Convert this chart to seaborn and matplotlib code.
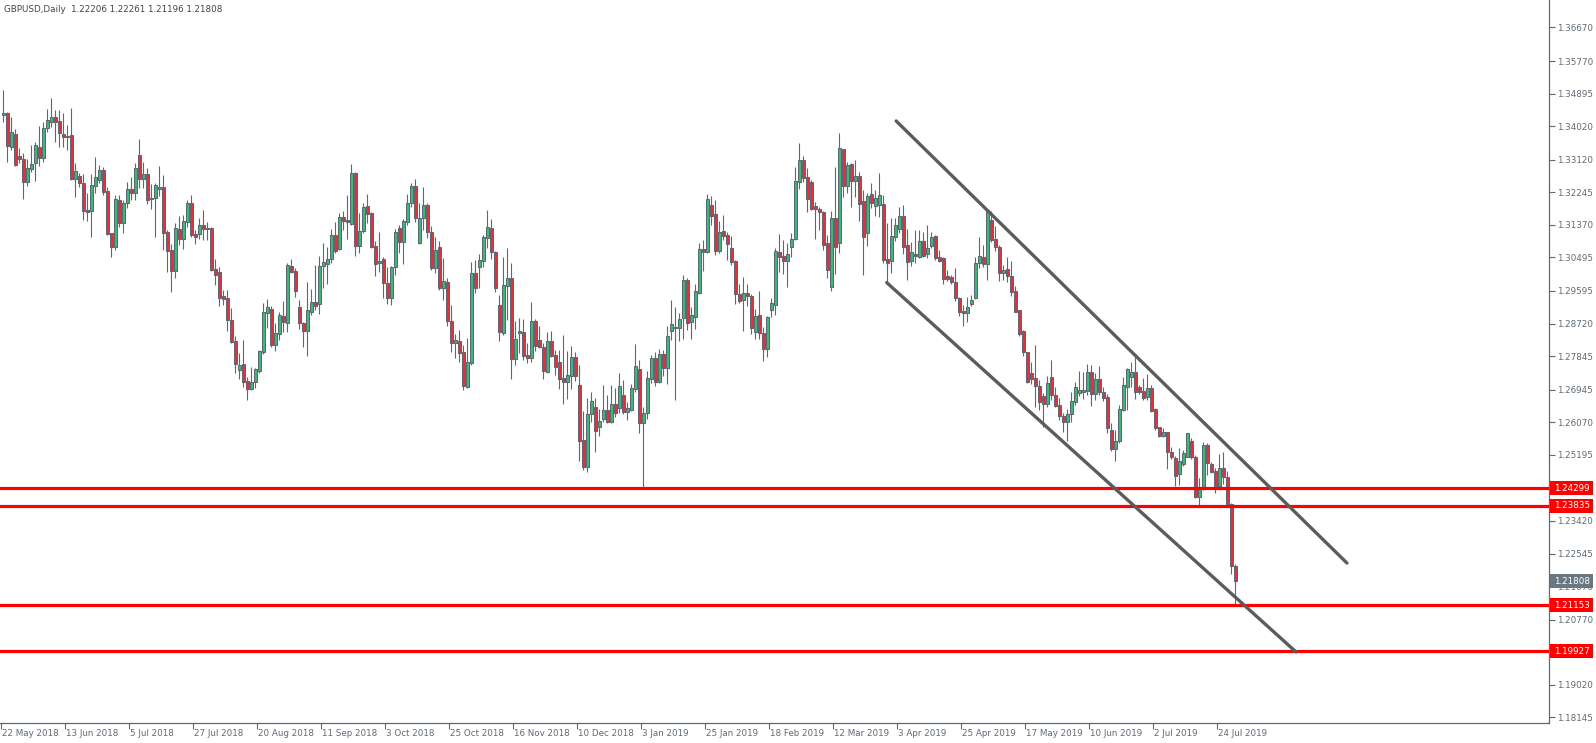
import numpy as np
import pandas as pd
import matplotlib
matplotlib.use("Agg")
import matplotlib.pyplot as plt
import seaborn as sns
from matplotlib.patches import Rectangle
from matplotlib.transforms import blended_transform_factory

# ---------------- data ----------------
chart_title = "GBPUSD,Daily  1.22206 1.22261 1.21196 1.21808"
first_date = "2018-05-22"
last_date = "2019-07-30"
market_holidays = ["2018-12-25", "2019-01-01"]

opens = [
    1.3432, 1.3437, 1.3347, 1.3381, 1.3321, 1.3314, 1.3251, 1.3288, 1.3302, 1.3345,
    1.3316, 1.3396, 1.3414, 1.3426, 1.3416, 1.3381, 1.3374, 1.3378, 1.3260, 1.3268,
    1.3249, 1.3177, 1.3175, 1.3242, 1.3258, 1.3284, 1.3228, 1.3114, 1.3078, 1.3204,
    1.3143, 1.3195, 1.3233, 1.3222, 1.3325, 1.3259, 1.3273, 1.3210, 1.3208, 1.3233,
    1.3238, 1.3117, 1.3070, 1.3014, 1.3126, 1.3099, 1.3145, 1.3197, 1.3112, 1.3112,
    1.3137, 1.3125, 1.3129, 1.3018, 1.3010, 1.2946, 1.2940, 1.2882, 1.2825, 1.2747,
    1.2764, 1.2718, 1.2696, 1.2716, 1.2745, 1.2797, 1.2900, 1.2910, 1.2815, 1.2843,
    1.2892, 1.2874, 1.3027, 1.3013, 1.2917, 1.2874, 1.2853, 1.2904, 1.2929, 1.2925,
    1.3027, 1.3032, 1.3045, 1.3110, 1.3072, 1.3159, 1.3150, 1.3139, 1.3277, 1.3080,
    1.3121, 1.3188, 1.3170, 1.3080, 1.3035, 1.3045, 1.2980, 1.2941, 1.3023, 1.3128,
    1.3090, 1.3145, 1.3195, 1.3241, 1.3088, 1.3155, 1.3190, 1.3117, 1.3020, 1.3077,
    1.2967, 1.2983, 1.2880, 1.2819, 1.2825, 1.2795, 1.2703, 1.2767, 1.3007, 1.3025,
    1.3041, 1.3101, 1.3128, 1.3064, 1.2922, 1.2848, 1.2974, 1.2995, 1.2776, 1.2846,
    1.2849, 1.2788, 1.2779, 1.2879, 1.2828, 1.2810, 1.2743, 1.2825, 1.2788, 1.2768,
    1.2727, 1.2716, 1.2731, 1.2783, 1.2707, 1.2560, 1.2486, 1.2629, 1.2647, 1.2594,
    1.2616, 1.2640, 1.2609, 1.2656, 1.2646, 1.2680, 1.2634, 1.2640, 1.2696, 1.2750,
    1.2606, 1.2631, 1.2723, 1.2779, 1.2714, 1.2790, 1.2752, 1.2853, 1.2861, 1.2859,
    1.2888, 1.2989, 1.2877, 1.2890, 1.2953, 1.3072, 1.3065, 1.3190, 1.3166, 1.3068,
    1.3121, 1.3110, 1.3074, 1.3040, 1.2951, 1.2934, 1.2953, 1.2947, 1.2850, 1.2895,
    1.2847, 1.2803, 1.2909, 1.2922, 1.3063, 1.3053, 1.3041, 1.3077, 1.3098, 1.3253,
    1.3311, 1.3265, 1.3251, 1.3188, 1.3180, 1.3171, 1.3088, 1.2970, 1.3155, 1.3088,
    1.3340, 1.3241, 1.3300, 1.3256, 1.3269, 1.3201, 1.3116, 1.3219, 1.3188, 1.3190,
    1.3192, 1.3045, 1.3041, 1.3104, 1.3126, 1.3161, 1.3083, 1.3041, 1.3059, 1.3052,
    1.3094, 1.3059, 1.3081, 1.3107, 1.3050, 1.3047, 1.3000, 1.2998, 1.2983, 1.2940,
    1.2906, 1.2900, 1.2924, 1.2940, 1.3034, 1.3050, 1.3032, 1.3150, 1.3099, 1.3077,
    1.3007, 1.3018, 1.3001, 1.2959, 1.2909, 1.2852, 1.2795, 1.2738, 1.2725, 1.2705,
    1.2678, 1.2656, 1.2729, 1.2680, 1.2654, 1.2624, 1.2609, 1.2629, 1.2662, 1.2685,
    1.2687, 1.2691, 1.2743, 1.2683, 1.2722, 1.2688, 1.2674, 1.2586, 1.2535, 1.2557,
    1.2640, 1.2701, 1.2729, 1.2741, 1.2702, 1.2692, 1.2676, 1.2698, 1.2642, 1.2594,
    1.2571, 1.2580, 1.2528, 1.2512, 1.2467, 1.2495, 1.2515, 1.2557, 1.2515, 1.2406,
    1.2430, 1.2546, 1.2494, 1.2476, 1.2437, 1.2483, 1.2460, 1.2388, 1.22206,
]
highs = [
    1.3498, 1.3439, 1.3427, 1.3394, 1.3343, 1.3329, 1.3313, 1.3352, 1.3360, 1.3402,
    1.3414, 1.3447, 1.3477, 1.3446, 1.3446, 1.3437, 1.3405, 1.3450, 1.3302, 1.3275,
    1.3274, 1.3222, 1.3274, 1.3318, 1.3298, 1.3293, 1.3240, 1.3114, 1.3217, 1.3217,
    1.3204, 1.3253, 1.3266, 1.3302, 1.3367, 1.3307, 1.3289, 1.3247, 1.3249, 1.3295,
    1.3271, 1.3123, 1.3086, 1.3141, 1.3161, 1.3163, 1.3204, 1.3217, 1.3123, 1.3155,
    1.3177, 1.3146, 1.3132, 1.3045, 1.3025, 1.2962, 1.2962, 1.2913, 1.2839, 1.2792,
    1.2828, 1.2729, 1.2756, 1.2752, 1.2801, 1.2927, 1.2937, 1.2919, 1.2873, 1.2904,
    1.2933, 1.3035, 1.3045, 1.3020, 1.2935, 1.2877, 1.2984, 1.2965, 1.3029, 1.3054,
    1.3088, 1.3078, 1.3126, 1.3146, 1.3170, 1.3174, 1.3217, 1.3300, 1.3280, 1.3168,
    1.3197, 1.3220, 1.3172, 1.3095, 1.3119, 1.3051, 1.3025, 1.3027, 1.3125, 1.3137,
    1.3152, 1.3220, 1.3249, 1.3259, 1.3195, 1.3240, 1.3197, 1.3134, 1.3105, 1.3095,
    1.3047, 1.2994, 1.2922, 1.2844, 1.2855, 1.2815, 1.2834, 1.3038, 1.3043, 1.3059,
    1.3110, 1.3177, 1.3152, 1.3067, 1.2949, 1.3052, 1.3074, 1.3034, 1.2880, 1.2886,
    1.2883, 1.2821, 1.2931, 1.2883, 1.2866, 1.2819, 1.2850, 1.2853, 1.2801, 1.2801,
    1.2841, 1.2799, 1.2813, 1.2797, 1.2761, 1.2638, 1.2671, 1.2688, 1.2671, 1.2642,
    1.2707, 1.2680, 1.2707, 1.2698, 1.2740, 1.2721, 1.2662, 1.2710, 1.2817, 1.2774,
    1.2649, 1.2745, 1.2788, 1.2797, 1.2804, 1.2801, 1.2866, 1.2934, 1.2917, 1.2900,
    1.3002, 1.2994, 1.2917, 1.2978, 1.3088, 1.3097, 1.3220, 1.3214, 1.3204, 1.3147,
    1.3163, 1.3119, 1.3107, 1.3043, 1.2978, 1.2996, 1.2978, 1.2951, 1.2910, 1.2960,
    1.2863, 1.2892, 1.2940, 1.3076, 1.3113, 1.3097, 1.3088, 1.3114, 1.3293, 1.3356,
    1.3322, 1.3289, 1.3258, 1.3199, 1.3184, 1.3175, 1.3110, 1.3174, 1.3293, 1.3385,
    1.3340, 1.3307, 1.3304, 1.3311, 1.3280, 1.3231, 1.3222, 1.3250, 1.3232, 1.3275,
    1.3217, 1.3141, 1.3155, 1.3155, 1.3186, 1.3190, 1.3125, 1.3092, 1.3123, 1.3123,
    1.3119, 1.3137, 1.3119, 1.3110, 1.3070, 1.3052, 1.3016, 1.3002, 1.3020, 1.2944,
    1.2922, 1.2944, 1.2949, 1.3052, 1.3104, 1.3083, 1.3179, 1.3175, 1.3134, 1.3083,
    1.3029, 1.3050, 1.3040, 1.2973, 1.2909, 1.2855, 1.2797, 1.2770, 1.2815, 1.2720,
    1.2685, 1.2731, 1.2774, 1.2703, 1.2671, 1.2631, 1.2644, 1.2689, 1.2716, 1.2745,
    1.2743, 1.2764, 1.2761, 1.2738, 1.2759, 1.2703, 1.2683, 1.2606, 1.2586, 1.2653,
    1.2729, 1.2752, 1.2770, 1.2783, 1.2707, 1.2725, 1.2736, 1.2707, 1.2645, 1.2594,
    1.2591, 1.2582, 1.2540, 1.2517, 1.2537, 1.2533, 1.2579, 1.2564, 1.2519, 1.2458,
    1.2555, 1.2551, 1.2501, 1.2484, 1.2522, 1.2526, 1.2475, 1.2390, 1.22261,
]
lows = [
    1.3414, 1.3307, 1.3338, 1.3295, 1.3302, 1.3206, 1.3242, 1.3280, 1.3256, 1.3296,
    1.3307, 1.3386, 1.3401, 1.3360, 1.3347, 1.3347, 1.3338, 1.3258, 1.3213, 1.3240,
    1.3150, 1.3148, 1.3104, 1.3222, 1.3249, 1.3217, 1.3110, 1.3050, 1.3070, 1.3132,
    1.3114, 1.3182, 1.3204, 1.3204, 1.3235, 1.3235, 1.3193, 1.3180, 1.3104, 1.3215,
    1.3070, 1.3011, 1.2958, 1.2995, 1.3083, 1.3072, 1.3132, 1.3104, 1.3085, 1.3098,
    1.3097, 1.3097, 1.3014, 1.2976, 1.2919, 1.2922, 1.2852, 1.2819, 1.2738, 1.2722,
    1.2703, 1.2667, 1.2694, 1.2698, 1.2740, 1.2790, 1.2859, 1.2810, 1.2798, 1.2828,
    1.2850, 1.2850, 1.3007, 1.2944, 1.2857, 1.2810, 1.2786, 1.2895, 1.2909, 1.2897,
    1.2967, 1.2978, 1.3034, 1.3061, 1.3070, 1.3123, 1.3098, 1.3137, 1.3054, 1.3062,
    1.3114, 1.3141, 1.3074, 1.3000, 1.3011, 1.2941, 1.2925, 1.2922, 1.3002, 1.3061,
    1.3032, 1.3137, 1.3186, 1.3146, 1.3085, 1.3123, 1.3101, 1.3016, 1.3009, 1.2962,
    1.2935, 1.2866, 1.2797, 1.2779, 1.2770, 1.2694, 1.2698, 1.2761, 1.2953, 1.2967,
    1.3023, 1.3076, 1.3045, 1.2958, 1.2826, 1.2842, 1.2882, 1.2723, 1.2761, 1.2792,
    1.2774, 1.2767, 1.2770, 1.2799, 1.2806, 1.2723, 1.2739, 1.2781, 1.2734, 1.2696,
    1.2656, 1.2669, 1.2696, 1.2719, 1.2504, 1.2479, 1.2474, 1.2609, 1.2528, 1.2570,
    1.2609, 1.2604, 1.2604, 1.2622, 1.2631, 1.2629, 1.2613, 1.2638, 1.2689, 1.2579,
    1.2430, 1.2615, 1.2713, 1.2705, 1.2712, 1.2730, 1.2709, 1.2828, 1.2667, 1.2826,
    1.2831, 1.2855, 1.2831, 1.2857, 1.2951, 1.3014, 1.3062, 1.3137, 1.3056, 1.3062,
    1.3097, 1.3043, 1.3029, 1.2925, 1.2928, 1.2853, 1.2920, 1.2844, 1.2830, 1.2830,
    1.2772, 1.2783, 1.2891, 1.2895, 1.3011, 1.3005, 1.2969, 1.3052, 1.3097, 1.3233,
    1.3253, 1.3172, 1.3177, 1.3099, 1.3123, 1.3070, 1.2994, 1.2960, 1.3005, 1.3062,
    1.3211, 1.3222, 1.3186, 1.3213, 1.3148, 1.3002, 1.3080, 1.3182, 1.3161, 1.3159,
    1.3034, 1.2980, 1.3007, 1.3095, 1.3116, 1.3059, 1.2989, 1.3027, 1.3034, 1.3047,
    1.3050, 1.3047, 1.3074, 1.3043, 1.3038, 1.2978, 1.2987, 1.2977, 1.2933, 1.2892,
    1.2866, 1.2877, 1.2919, 1.2938, 1.3020, 1.3025, 1.2989, 1.3092, 1.3068, 1.2987,
    1.2989, 1.2984, 1.2946, 1.2904, 1.2839, 1.2786, 1.2713, 1.2710, 1.2649, 1.2640,
    1.2595, 1.2647, 1.2667, 1.2647, 1.2613, 1.2580, 1.2558, 1.2609, 1.2653, 1.2678,
    1.2669, 1.2680, 1.2651, 1.2667, 1.2680, 1.2664, 1.2578, 1.2531, 1.2504, 1.2552,
    1.2638, 1.2640, 1.2703, 1.2670, 1.2682, 1.2667, 1.2667, 1.2635, 1.2586, 1.2568,
    1.2568, 1.2481, 1.2508, 1.2437, 1.2438, 1.2490, 1.2513, 1.2508, 1.2403, 1.23835,
    1.2425, 1.2466, 1.2471, 1.2417, 1.2425, 1.2440, 1.2385, 1.2200, 1.21196,
]
closes = [
    1.3438, 1.3350, 1.3386, 1.3298, 1.3313, 1.3253, 1.3289, 1.3300, 1.3352, 1.3316,
    1.3396, 1.3419, 1.3426, 1.3414, 1.3383, 1.3374, 1.3376, 1.3260, 1.3282, 1.3249,
    1.3175, 1.3172, 1.3244, 1.3266, 1.3284, 1.3226, 1.3113, 1.3078, 1.3206, 1.3143,
    1.3195, 1.3233, 1.3222, 1.3289, 1.3259, 1.3273, 1.3204, 1.3206, 1.3244, 1.3238,
    1.3116, 1.3068, 1.3014, 1.3128, 1.3099, 1.3147, 1.3197, 1.3110, 1.3104, 1.3137,
    1.3125, 1.3128, 1.3016, 1.3002, 1.2942, 1.2939, 1.2882, 1.2822, 1.2764, 1.2761,
    1.2716, 1.2696, 1.2714, 1.2750, 1.2798, 1.2902, 1.2916, 1.2815, 1.2846, 1.2895,
    1.2875, 1.3029, 1.3010, 1.2960, 1.2873, 1.2853, 1.2909, 1.2929, 1.2920, 1.3027,
    1.3037, 1.3045, 1.3110, 1.3068, 1.3157, 1.3148, 1.3145, 1.3277, 1.3080, 1.3121,
    1.3186, 1.3166, 1.3077, 1.3031, 1.3040, 1.2980, 1.2941, 1.3025, 1.3119, 1.3092,
    1.3147, 1.3197, 1.3242, 1.3155, 1.3155, 1.3190, 1.3117, 1.3020, 1.3070, 1.2967,
    1.2986, 1.2880, 1.2819, 1.2828, 1.2792, 1.2705, 1.2768, 1.3007, 1.2968, 1.3043,
    1.3104, 1.3131, 1.3064, 1.2968, 1.2850, 1.2976, 1.2995, 1.2777, 1.2830, 1.2852,
    1.2786, 1.2779, 1.2879, 1.2813, 1.2808, 1.2746, 1.2825, 1.2786, 1.2755, 1.2723,
    1.2714, 1.2734, 1.2783, 1.2731, 1.2558, 1.2486, 1.2629, 1.2664, 1.2584, 1.2610,
    1.2640, 1.2609, 1.2656, 1.2631, 1.2704, 1.2634, 1.2646, 1.2698, 1.2758, 1.2606,
    1.2631, 1.2725, 1.2779, 1.2714, 1.2790, 1.2752, 1.2839, 1.2870, 1.2864, 1.2883,
    1.2989, 1.2873, 1.2895, 1.2959, 1.3072, 1.3065, 1.3206, 1.3162, 1.3068, 1.3117,
    1.3108, 1.3085, 1.3038, 1.2951, 1.2933, 1.2955, 1.2947, 1.2859, 1.2892, 1.2846,
    1.2803, 1.2889, 1.2927, 1.3067, 1.3052, 1.3041, 1.3059, 1.3098, 1.3255, 1.3311,
    1.3264, 1.3206, 1.3180, 1.3180, 1.3172, 1.3083, 1.3016, 1.3155, 1.3077, 1.3343,
    1.3241, 1.3298, 1.3256, 1.3269, 1.3193, 1.3105, 1.3215, 1.3197, 1.3208, 1.3217,
    1.3043, 1.3034, 1.3107, 1.3137, 1.3161, 1.3077, 1.3038, 1.3063, 1.3054, 1.3094,
    1.3054, 1.3074, 1.3104, 1.3049, 1.3041, 1.2991, 1.2992, 1.2983, 1.2940, 1.2904,
    1.2900, 1.2917, 1.2935, 1.3034, 1.3054, 1.3032, 1.3177, 1.3097, 1.3077, 1.3007,
    1.3016, 1.3001, 1.2958, 1.2904, 1.2843, 1.2795, 1.2716, 1.2722, 1.2705, 1.2661,
    1.2656, 1.2712, 1.2680, 1.2652, 1.2624, 1.2607, 1.2629, 1.2664, 1.2701, 1.2694,
    1.2694, 1.2743, 1.2683, 1.2722, 1.2687, 1.2673, 1.2591, 1.2535, 1.2557, 1.2642,
    1.2707, 1.2749, 1.2741, 1.2687, 1.2689, 1.2671, 1.2698, 1.2638, 1.2591, 1.2571,
    1.2580, 1.2526, 1.2515, 1.2464, 1.2503, 1.2524, 1.2577, 1.2515, 1.2406, 1.2434,
    1.2546, 1.2497, 1.2474, 1.2437, 1.2483, 1.2460, 1.2388, 1.2221, 1.21808,
]

date_tick_labels = [
    "22 May 2018", "13 Jun 2018", "5 Jul 2018", "27 Jul 2018", "20 Aug 2018",
    "11 Sep 2018", "3 Oct 2018", "25 Oct 2018", "16 Nov 2018", "10 Dec 2018",
    "3 Jan 2019", "25 Jan 2019", "18 Feb 2019", "12 Mar 2019", "3 Apr 2019",
    "25 Apr 2019", "17 May 2019", "10 Jun 2019", "2 Jul 2019", "24 Jul 2019",
]
price_tick_labels = [
    "1.36670", "1.35770", "1.34895", "1.34020", "1.33120", "1.32245", "1.31370",
    "1.30495", "1.29595", "1.28720", "1.27845", "1.26945", "1.26070", "1.25195",
    "1.23420", "1.22545", "1.21670", "1.20770", "1.19020", "1.18145",
]
level_prices = [1.24299, 1.23835, 1.21153, 1.19927]
last_price = 1.21808
# channel lines: (bar number, price)
channel_upper = [(223.2, 1.3416), (335.9, 1.2229)]
channel_lower = [(220.85, 1.2982), (323.2, 1.1990)]

# ---------------- styling ----------------
sns.set_theme(style="white")
plt.rcParams["font.family"] = ["DejaVu Sans"]

axis_col = "#5f6a74"
text_col = "#5f6a74"
wick_col = "#5d6872"
bull_col = "#3fb77a"
bear_col = "#e3303f"
level_col = "#ff0000"
chan_col = "#5c5c5c"
FS = 6.3

W, H = 1596, 743
fig = plt.figure(figsize=(W / 100, H / 100), dpi=100)
fig.patch.set_facecolor("white")
ax_l, ax_b, ax_w, ax_h = 0, 20, 1549, 723
ax = fig.add_axes([ax_l / W, ax_b / H, ax_w / W, ax_h / H])
ax.set_facecolor("white")

dates = pd.bdate_range(first_date, last_date)
dates = dates[~dates.isin(pd.to_datetime(market_holidays))]
n = len(dates)
df = pd.DataFrame({"date": dates, "open": opens[:n], "high": highs[:n],
                   "low": lows[:n], "close": closes[:n]})
df["i"] = np.arange(n)

up = df["close"] >= df["open"]
ax.vlines(df["i"], df["low"], df["high"], color=wick_col, linewidth=0.8, zorder=2)
body_lo = np.minimum(df["open"], df["close"])
body_h = np.maximum((df["close"] - df["open"]).abs(), 0.00005)
ax.bar(df["i"][up], body_h[up], bottom=body_lo[up], width=0.72,
       color=bull_col, edgecolor=wick_col, linewidth=0.75, zorder=3)
ax.bar(df["i"][~up], body_h[~up], bottom=body_lo[~up], width=0.72,
       color=bear_col, edgecolor=wick_col, linewidth=0.75, zorder=3)

# horizontal levels
for p in level_prices:
    ax.axhline(p, color=level_col, linewidth=2.3, zorder=4)

# channel lines
for seg in (channel_upper, channel_lower):
    seg_df = pd.DataFrame(seg, columns=["x", "y"])
    sns.lineplot(data=seg_df, x="x", y="y", ax=ax, color=chan_col,
                 linewidth=2.4, estimator=None, sort=False, zorder=5)

ax.set_xlim(-0.825, 386.4)
ax.set_ylim(1.17996, 1.37408)
ax.set_xlabel("")
ax.set_ylabel("")

# spines
for s in ["top", "left"]:
    ax.spines[s].set_visible(False)
for s in ["right", "bottom"]:
    ax.spines[s].set_color(axis_col)
    ax.spines[s].set_linewidth(0.9)

# y ticks on right
ax.yaxis.tick_right()
ytv = [float(s) for s in price_tick_labels]
ax.set_yticks(ytv)
ax.set_yticklabels(price_tick_labels)
ax.tick_params(axis="y", right=True, left=False, length=4, width=0.8,
               color=axis_col, labelcolor=text_col, labelsize=FS, pad=2)

# x ticks
lab_dates = pd.to_datetime(date_tick_labels, format="%d %b %Y")
lab_pos = [int(np.where(dates == d)[0][0]) for d in lab_dates]
ax.set_xticks([p - 0.6 for p in lab_pos])
ax.set_xticklabels([])
ax.tick_params(axis="x", bottom=True, length=4, width=0.8, color=axis_col)
xtr = blended_transform_factory(ax.transData, ax.transAxes)
for p, lab in zip(lab_pos, date_tick_labels):
    ax.text(p - 0.3, -10 / ax_h, lab, transform=xtr, ha="left", va="center",
            fontsize=FS, color=text_col, clip_on=False)

# price boxes on the right
ytr = blended_transform_factory(ax.transAxes, ax.transData)
box_h = 14 / 3725.0
def price_box(price, label, fc):
    ax.add_patch(Rectangle((1550 / ax_w, price - box_h / 2), 43 / ax_w, box_h,
                           transform=ytr, facecolor=fc, edgecolor="none",
                           clip_on=False, zorder=10))
    ax.text(1554 / ax_w, price, label, transform=ytr, ha="left", va="center",
            fontsize=FS, color="white", clip_on=False, zorder=11)

for p in level_prices:
    price_box(p, f"{p:.5f}", level_col)
price_box(last_price, f"{last_price:.5f}", "#6b7780")

fig.text(4 / W, 1 - 10 / H, chart_title, fontsize=FS, color="#3c4650",
         ha="left", va="center")

fig.savefig("out.png", dpi=100, facecolor="white")
